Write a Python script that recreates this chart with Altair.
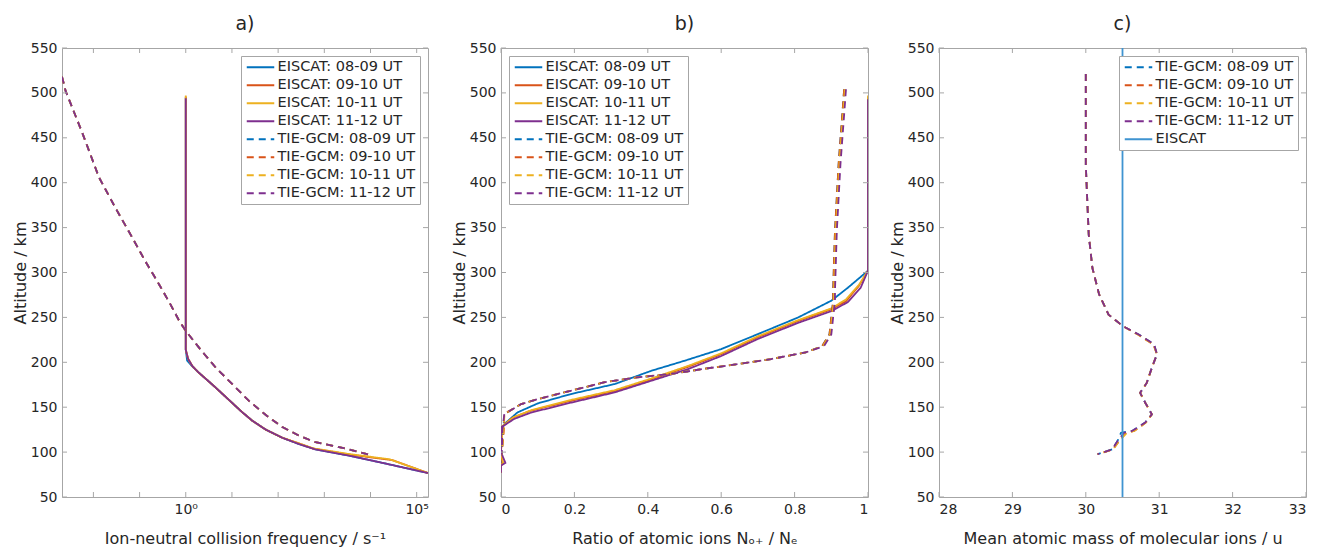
import altair as alt
import pandas as pd

# ---------------- data ----------------
SERIES_E = ["EISCAT: 08-09 UT", "EISCAT: 09-10 UT", "EISCAT: 10-11 UT", "EISCAT: 11-12 UT"]
SERIES_T = ["TIE-GCM: 08-09 UT", "TIE-GCM: 09-10 UT", "TIE-GCM: 10-11 UT", "TIE-GCM: 11-12 UT"]
COLORS4 = ["#0072BD", "#D95319", "#EDB120", "#7E2F8E"]
EISCAT_C_COLOR = "#3F94D1"

Y_TICKS = [50, 100, 150, 200, 250, 300, 350, 400, 450, 500, 550]

# panel a) ion-neutral collision frequency (s^-1) vs altitude (km)
A_E_ALT = [[495, 214, 202, 196, 189, 181, 172, 163, 155, 145, 135, 125, 116, 109, 103, 96, 88, 76.7],
           [496, 214, 204, 196, 189, 181, 172, 163, 155, 145, 135, 125, 116, 110, 104, 97, 91, 76.7],
           [497, 214, 204, 196, 189, 181, 172, 163, 155, 145, 135, 125, 116, 110, 104, 98, 92, 76.7],
           [494, 214, 204, 196, 189, 181, 172, 163, 155, 145, 135, 125, 116, 109, 103, 96, 88, 76.7]]
A_E_FREQ = [[1.0, 1.0, 1.07, 1.35, 1.86, 2.8, 4.4, 6.8, 10.0, 16.2, 27.5, 54, 123, 280, 646, 3467, 18200, 176000],
            [1.0, 1.0, 1.12, 1.38, 1.86, 2.8, 4.4, 6.8, 10.0, 16.2, 27.5, 54, 123, 270, 560, 3800, 30000, 176000],
            [1.0, 1.0, 1.12, 1.38, 1.86, 2.8, 4.4, 6.8, 10.0, 16.2, 27.5, 54, 123, 270, 600, 3300, 26000, 176000],
            [1.0, 1.0, 1.12, 1.38, 1.86, 2.8, 4.4, 6.8, 10.0, 16.2, 27.5, 54, 123, 280, 646, 3467, 18200, 176000]]
A_T_ALT = [518, 502, 455, 406, 372, 339, 312, 287, 265, 246, 235, 214, 194, 175, 157, 141, 128, 118, 111, 103, 97]
A_T_FREQ = [0.00209, 0.00251, 0.0058, 0.0132, 0.030, 0.0692, 0.135, 0.263, 0.46, 0.724, 1.0, 2.1, 4.47, 10.5, 23.4, 55, 123, 290, 646, 3467, 9333]
A_X_TICKS = [0.01, 0.1, 1, 10, 100, 1000, 10000, 100000]

# panel b) ratio of atomic ions vs altitude
B_E_RATIO = [[1.0, 1.0, 0.945, 0.9, 0.81, 0.7, 0.6, 0.5, 0.41, 0.31, 0.19, 0.1, 0.045, 0.009, 0.002, 0.0, 0.003, 0.0, 0.0],
             [1.0, 1.0, 0.975, 0.94, 0.9, 0.81, 0.7, 0.6, 0.51, 0.41, 0.31, 0.19, 0.08, 0.03, 0.003, 0.0, 0.004, 0.0, 0.0],
             [1.0, 1.0, 0.975, 0.94, 0.9, 0.81, 0.7, 0.6, 0.51, 0.41, 0.31, 0.19, 0.085, 0.035, 0.004, 0.0, 0.006, 0.0, 0.0],
             [1.0, 1.0, 0.98, 0.945, 0.9, 0.81, 0.7, 0.6, 0.51, 0.41, 0.31, 0.19, 0.082, 0.036, 0.0, 0.0, 0.012, 0.0, 0.0]]
B_E_ALT = [[495, 302, 283, 268.6, 250, 231.4, 214.7, 201.7, 190.6, 175.8, 164.6, 154.2, 144.2, 131.2, 125, 100, 88, 85, 77],
           [495, 302, 285, 268, 259, 246, 228, 209, 195, 181, 168, 157, 146, 138, 128, 100, 88, 85, 77],
           [497, 302, 286, 270, 260, 247, 229, 210, 196, 182, 169, 158, 147, 139, 129, 100, 88, 85, 77],
           [493, 302, 283, 267, 257, 244, 226, 207, 192.5, 179.5, 166.5, 155, 144, 137, 127.5, 100, 88, 85, 77]]
B_T_ALT = [504, 476, 421, 346, 279, 268, 250, 231, 218, 211, 203.6, 198, 192.5, 186.9, 183.2, 177.6, 168.3, 159, 153.5, 142.4, 125, 97]
B_T_RATIO = [[0.935, 0.93, 0.92, 0.91, 0.905, 0.905, 0.9, 0.895, 0.875, 0.83, 0.736, 0.645, 0.55, 0.46, 0.37, 0.28, 0.19, 0.1, 0.055, 0.009, 0.006, 0.002],
             [0.935, 0.93, 0.92, 0.91, 0.905, 0.905, 0.9, 0.895, 0.875, 0.83, 0.736, 0.645, 0.55, 0.46, 0.37, 0.28, 0.19, 0.1, 0.055, 0.009, 0.008, 0.002],
             [0.937, 0.932, 0.922, 0.912, 0.907, 0.907, 0.902, 0.897, 0.877, 0.83, 0.736, 0.645, 0.55, 0.46, 0.37, 0.28, 0.19, 0.1, 0.055, 0.009, 0.007, 0.002],
             [0.94, 0.935, 0.925, 0.915, 0.91, 0.91, 0.905, 0.9, 0.88, 0.83, 0.736, 0.645, 0.55, 0.46, 0.37, 0.28, 0.19, 0.1, 0.055, 0.009, 0.004, 0.002]]
B_X_TICKS = [0, 0.2, 0.4, 0.6, 0.8, 1.0]

# panel c) mean atomic mass of molecular ions (u) vs altitude
C_T_ALT = [521, 420, 380, 342, 305, 276, 253, 240, 231, 220, 209, 194, 177, 166, 155, 142, 133, 123.5, 121.6, 112, 103, 97.6]
C_T_MASS = [[30.0, 30.0, 30.02, 30.04, 30.09, 30.18, 30.31, 30.51, 30.72, 30.93, 30.97, 30.90, 30.83, 30.74, 30.81, 30.9, 30.81, 30.63, 30.48, 30.43, 30.36, 30.16],
            [30.0, 30.0, 30.02, 30.04, 30.09, 30.18, 30.31, 30.51, 30.71, 30.92, 30.97, 30.90, 30.83, 30.74, 30.81, 30.9, 30.82, 30.66, 30.55, 30.45, 30.37, 30.16],
            [30.0, 30.0, 30.02, 30.04, 30.09, 30.18, 30.31, 30.51, 30.71, 30.92, 30.97, 30.90, 30.83, 30.74, 30.81, 30.9, 30.82, 30.66, 30.56, 30.45, 30.37, 30.16],
            [30.0, 30.0, 30.02, 30.04, 30.09, 30.18, 30.31, 30.51, 30.72, 30.93, 30.97, 30.90, 30.83, 30.74, 30.81, 30.9, 30.81, 30.63, 30.52, 30.43, 30.36, 30.16]]
C_E_ALT = [50, 550]
C_E_MASS = [30.5, 30.5]
C_X_TICKS = [28, 29, 30, 31, 32, 33]

# ---------------- styling ----------------
FONT = "DejaVu Sans"
TXT = "#262626"
GRAY = "#a6a6a6"
H = 449
SOLID = [1, 0]
DASH = [7, 5]


def rows(series, xs, alts):
    out = []
    for i, (x, a) in enumerate(zip(xs, alts)):
        out.append({"series": series, "x": x, "alt": a, "idx": i})
    return out


def legend(orient):
    return alt.Legend(
        title=None, orient=orient, offset=8,
        fillColor="white", strokeColor=GRAY, padding=4,
        labelFont=FONT, labelFontSize=14.5, labelColor=TXT,
        symbolType="M-1,0H4", symbolSize=121, symbolStrokeWidth=2,
        labelOffset=18, rowPadding=3,
    )


def panel(df, xscale, xaxis, xticks, domain, colors, dashes, orient, title, W):
    yscale = alt.Scale(domain=[50, 550], nice=False, zero=False)
    yaxis = alt.Axis(title="Altitude / km", values=Y_TICKS, format="d")
    leg = legend(orient)
    lines = alt.Chart(df).mark_line(clip=True, strokeWidth=1.8).encode(
        x=alt.X("x:Q", scale=xscale, axis=xaxis),
        y=alt.Y("alt:Q", scale=yscale, axis=yaxis),
        color=alt.Color("series:N", scale=alt.Scale(domain=domain, range=colors), legend=leg),
        strokeDash=alt.StrokeDash("series:N", scale=alt.Scale(domain=domain, range=dashes), legend=leg),
        order="idx:Q",
    )
    yt = alt.Chart(pd.DataFrame({"v": Y_TICKS}))
    xt = alt.Chart(pd.DataFrame({"v": xticks}))
    t1 = yt.mark_rule(color=GRAY).encode(y=alt.Y("v:Q", scale=yscale, axis=yaxis), x=alt.value(0), x2=alt.value(5))
    t2 = yt.mark_rule(color=GRAY).encode(y=alt.Y("v:Q", scale=yscale, axis=yaxis), x=alt.value(W - 5), x2=alt.value(W))
    t3 = xt.mark_rule(color=GRAY).encode(x=alt.X("v:Q", scale=xscale, axis=xaxis), y=alt.value(H - 5), y2=alt.value(H))
    t4 = xt.mark_rule(color=GRAY).encode(x=alt.X("v:Q", scale=xscale, axis=xaxis), y=alt.value(0), y2=alt.value(5))
    return alt.layer(lines, t1, t2, t3, t4).properties(
        width=W, height=H,
        title=alt.Title(title, fontSize=19, fontWeight="normal", font=FONT, color=TXT, offset=7),
    )


# panel a
ra = []
for s, xs, al in zip(SERIES_E, A_E_FREQ, A_E_ALT):
    ra += rows(s, xs, al)
for s in SERIES_T:
    ra += rows(s, A_T_FREQ, A_T_ALT)
df_a = pd.DataFrame(ra)
pa = panel(
    df_a,
    alt.Scale(type="log", domain=[0.00209, 175800], nice=False),
    alt.Axis(title="Ion-neutral collision frequency / s\u207b\u00b9", values=[1, 100000],
             labelExpr="datum.value == 1 ? '10\u2070' : '10\u2075'"),
    A_X_TICKS, SERIES_E + SERIES_T, COLORS4 + COLORS4,
    [SOLID] * 4 + [DASH] * 4, "top-right", "a)", 366)

# panel b
rb = []
for s, xs, al in zip(SERIES_E, B_E_RATIO, B_E_ALT):
    rb += rows(s, xs, al)
for s, xs in zip(SERIES_T, B_T_RATIO):
    rb += rows(s, xs, B_T_ALT)
df_b = pd.DataFrame(rb)
pb = panel(
    df_b,
    alt.Scale(domain=[0, 1], nice=False),
    alt.Axis(title="Ratio of atomic ions N\u2092\u208a / N\u2091", values=B_X_TICKS, format="~g"),
    B_X_TICKS, SERIES_E + SERIES_T, COLORS4 + COLORS4,
    [SOLID] * 4 + [DASH] * 4, "top-left", "b)", 367)

# panel c
rc = []
for s, xs in zip(SERIES_T, C_T_MASS):
    rc += rows(s, xs, C_T_ALT)
rc += rows("EISCAT", C_E_MASS, C_E_ALT)
df_c = pd.DataFrame(rc)
pc = panel(
    df_c,
    alt.Scale(domain=[28, 33], nice=False, zero=False),
    alt.Axis(title="Mean atomic mass of molecular ions / u", values=C_X_TICKS, format="d"),
    C_X_TICKS, SERIES_T + ["EISCAT"], COLORS4 + [EISCAT_C_COLOR],
    [DASH] * 4 + [SOLID], "top-right", "c)", 367)

inner = alt.hconcat(pa, pb, spacing=21)
chart = alt.hconcat(inner, pc, spacing=19, padding={"left": 3, "top": 6, "right": 5, "bottom": 5}).resolve_scale(
    color="independent", strokeDash="independent", x="independent", y="independent"
).resolve_legend(color="independent", strokeDash="independent").configure_view(
    stroke=GRAY, strokeWidth=1
).configure_axis(
    labelFont=FONT, titleFont=FONT, labelFontSize=14, titleFontSize=16,
    labelColor=TXT, titleColor=TXT, titleFontWeight="normal",
    ticks=False, domain=False, grid=False, labelPadding=5, titlePadding=14,
).configure_axisY(titlePadding=2)

chart.save("out.html", embed_options={"renderer": "svg", "actions": False})
